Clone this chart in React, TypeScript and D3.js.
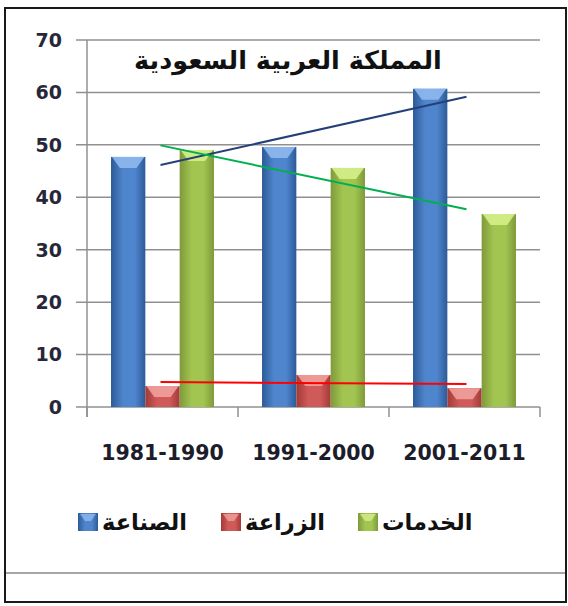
import React, { useEffect, useRef } from "react"
import * as d3 from "d3"

const periods = ["1981-1990", "1991-2000", "2001-2011"]
const industry = [47.7, 49.6, 60.7]
const agriculture = [4.0, 6.1, 3.6]
const services = [49.0, 45.6, 36.8]
const seriesNames = ["الصناعة", "الزراعة", "الخدمات"]
const yTicks = [0, 10, 20, 30, 40, 50, 60, 70]
const title = "المملكة العربية السعودية"

const palette = [
  { dark: "#2c5a98", mid: "#4f85cc", light: "#8fb9ee", trend: "#24407a" },
  { dark: "#a23a38", mid: "#d05a57", light: "#f0a09c", trend: "#ff0000" },
  { dark: "#7e9a3a", mid: "#a2c451", light: "#d6ef8a", trend: "#00b050" },
]

export default function App() {
  const ref = useRef<SVGSVGElement>(null)

  useEffect(() => {
    const svg = d3.select(ref.current)
    svg.selectAll("*").remove()

    const margin = { left: 87, right: 540, top: 40, bottom: 407 }
    const series = [industry, agriculture, services]

    const x = d3.scaleBand().domain(periods).range([margin.left, margin.right])
    // gap width 150% like Excel
    const inner = d3.scaleBand().domain(["0", "1", "2"]).range([0, x.bandwidth()]).paddingOuter(0.7).paddingInner(0)
    const y = d3.scaleLinear().domain([0, 70]).range([margin.bottom, margin.top])

    const defs = svg.append("defs")
    palette.forEach((p, i) => {
      const g = defs.append("linearGradient").attr("id", "bar" + i).attr("x1", "0").attr("x2", "1").attr("y1", "0").attr("y2", "0")
      g.append("stop").attr("offset", "0%").attr("stop-color", p.dark)
      g.append("stop").attr("offset", "35%").attr("stop-color", p.mid)
      g.append("stop").attr("offset", "70%").attr("stop-color", p.mid)
      g.append("stop").attr("offset", "100%").attr("stop-color", p.dark)
    })

    // frame
    svg.append("rect").attr("x", 5).attr("y", 8).attr("width", 561).attr("height", 594)
      .attr("fill", "white").attr("stroke", "#1a1a1a").attr("stroke-width", 2)
    svg.append("line").attr("x1", 6).attr("x2", 565).attr("y1", 573).attr("y2", 573)
      .attr("stroke", "#a6a6a6").attr("stroke-width", 2)

    // grid
    svg.append("g").selectAll("line").data(yTicks).join("line")
      .attr("x1", margin.left - 11).attr("x2", margin.right)
      .attr("y1", d => y(d)).attr("y2", d => y(d))
      .attr("stroke", "#909090").attr("stroke-width", 1.5)

    svg.append("line").attr("x1", margin.left).attr("x2", margin.left)
      .attr("y1", margin.top).attr("y2", margin.bottom + 10)
      .attr("stroke", "#909090").attr("stroke-width", 1.5)

    const boundaries = periods.map(p => x(p)!).concat([margin.right])
    svg.append("g").selectAll("line").data(boundaries).join("line")
      .attr("x1", d => d).attr("x2", d => d)
      .attr("y1", margin.bottom).attr("y2", margin.bottom + 10)
      .attr("stroke", "#909090").attr("stroke-width", 1.5)

    svg.append("g").selectAll("text").data(yTicks).join("text")
      .attr("x", 62).attr("y", d => y(d)).attr("dy", "0.36em")
      .attr("text-anchor", "end")
      .attr("font-family", "'DejaVu Sans', sans-serif")
      .attr("font-weight", "bold").attr("font-size", 19).attr("fill", "#26283a")
      .text(d => d)

    // bars
    series.forEach((vals, si) => {
      const g = svg.append("g")
      vals.forEach((v, ci) => {
        const bx = x(periods[ci])! + inner(String(si))!
        const bw = inner.bandwidth()
        const top = y(v)
        g.append("rect").attr("x", bx).attr("y", top).attr("width", bw).attr("height", y(0) - top)
          .attr("fill", `url(#bar${si})`)
        const cap = Math.min(11, (y(0) - top) * 0.6)
        g.append("path")
          .attr("d", `M${bx + 1},${top} L${bx + bw - 1},${top} L${bx + bw * 0.74},${top + cap} L${bx + bw * 0.26},${top + cap} Z`)
          .attr("fill", palette[si].light).attr("opacity", 0.9)
      })
    })

    // linear trendlines
    series.forEach((vals, si) => {
      const xs = vals.map((_, i) => i + 1)
      const mx = d3.mean(xs)!
      const my = d3.mean(vals)!
      const slope = d3.sum(xs.map((xi, i) => (xi - mx) * (vals[i] - my))) / d3.sum(xs.map(xi => (xi - mx) ** 2))
      const at = (xi: number) => my + slope * (xi - mx)
      const cx = (i: number) => x(periods[i])! + x.bandwidth() / 2
      svg.append("line")
        .attr("x1", cx(0) - 2).attr("x2", cx(2) + 2)
        .attr("y1", y(at(1))).attr("y2", y(at(3)))
        .attr("stroke", palette[si].trend).attr("stroke-width", 2)
    })

    // category labels
    svg.append("g").selectAll("text").data(periods).join("text")
      .attr("x", d => x(d)! + x.bandwidth() / 2).attr("y", 453).attr("dy", "0.36em")
      .attr("text-anchor", "middle")
      .attr("font-family", "'DejaVu Sans', sans-serif")
      .attr("font-weight", "bold").attr("font-size", 20.5).attr("fill", "#1c1c2a")
      .text(d => d)

    // title
    svg.append("text").attr("x", 288).attr("y", 60).attr("dy", "0.35em")
      .attr("text-anchor", "middle").attr("direction", "rtl")
      .attr("font-family", "'DejaVu Sans', 'Noto Sans', sans-serif")
      .attr("font-weight", "bold").attr("font-size", 25.5).attr("fill", "#111")
      .text(title)

    // legend
    const legendX = [78, 221, 358]
    seriesNames.forEach((name, i) => {
      const lg = svg.append("g").attr("transform", `translate(${legendX[i]},522)`)
      lg.append("rect").attr("x", 0).attr("y", -9).attr("width", 20).attr("height", 18)
        .attr("fill", `url(#bar${i})`)
      lg.append("path").attr("d", "M2,-8 L18,-8 L13,-1 L7,-1 Z").attr("fill", palette[i].light).attr("opacity", 0.8)
      lg.append("text").attr("x", 24).attr("y", 0).attr("dy", "0.35em")
        .attr("text-anchor", "start")
        .attr("font-family", "'DejaVu Sans', 'Noto Sans', sans-serif")
        .attr("font-weight", "bold").attr("font-size", 22.5).attr("fill", "#111")
        .text(name)
    })
  }, [])

  return (
    <div style={{ position: "absolute", left: 0, top: 0 }}>
      <svg ref={ref} width={568} height={606} style={{ display: "block" }}></svg>
    </div>
  )
}
